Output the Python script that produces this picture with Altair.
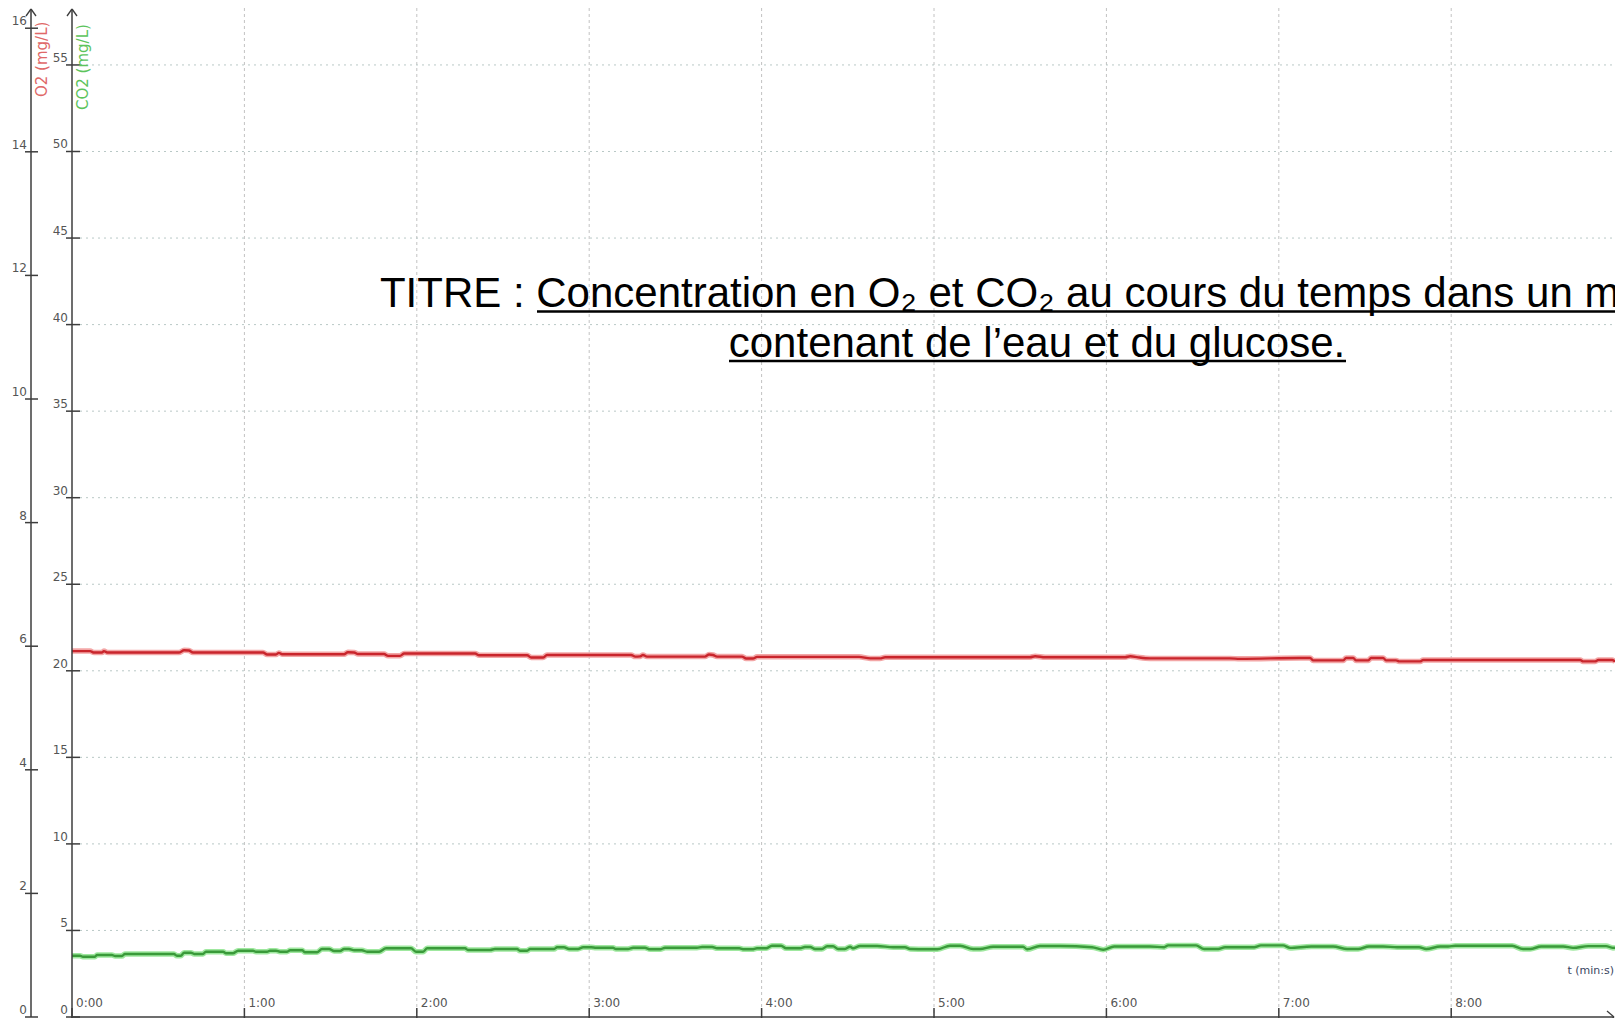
import altair as alt
import pandas as pd

# ---------------- data ----------------
# time in seconds, O2 in mg/L
o2_t = [0, 6.3, 7.7, 10.4, 11.1, 12.5, 37.2, 39.0, 40.7, 42.1, 66.5, 67.9, 71.0, 72.0, 73.1,
        94.7, 96.0, 98.2, 99.5, 108.6, 110.0, 114.2, 115.6, 140.3, 141.7, 158.4, 159.8, 163.9,
        165.3, 194.6, 196.0, 197.7, 198.7, 200.1, 220.3, 221.7, 223.1, 224.5, 233.2, 234.6,
        237.0, 238.4, 269.0, 273.9, 277.8, 281.2, 283.0, 333.4, 335.2, 338.7, 366.5, 368.3,
        371.0, 375.2, 403.0, 406.5, 427.4, 430.9, 432.0, 442.4, 443.4,
        445.9, 446.9, 451.1, 452.1, 456.3, 457.4, 460.8, 461.9, 469.2, 470.2, 524.9, 525.9,
        530.1, 531.2, 536.0, 537.0]
o2_v = [5.921, 5.921, 5.897, 5.897, 5.921, 5.897, 5.897, 5.934, 5.930, 5.897, 5.897, 5.865,
        5.865, 5.892, 5.870, 5.870, 5.902, 5.899, 5.874, 5.874, 5.844, 5.844, 5.881, 5.881,
        5.853, 5.853, 5.816, 5.816, 5.858, 5.858, 5.832, 5.835, 5.857, 5.832, 5.832, 5.865,
        5.857, 5.832, 5.832, 5.800, 5.800, 5.828, 5.828, 5.828, 5.803, 5.803, 5.821, 5.821,
        5.838, 5.821, 5.821, 5.838, 5.820, 5.803, 5.803, 5.795, 5.810,
        5.810, 5.770, 5.770, 5.808, 5.808, 5.770, 5.770, 5.808, 5.808, 5.770, 5.770, 5.754,
        5.754, 5.776, 5.776, 5.754, 5.754, 5.776, 5.776, 5.750]

# time in seconds, CO2 in mg/L
co2_t = [0, 2.8, 3.8, 8.0, 8.7, 13.9, 15.0, 17.4, 18.4, 35.5, 36.5, 37.9, 39.0, 41.4, 42.5,
         45.6, 46.6, 52.6, 53.6, 56.0, 57.8, 63.0, 64.0, 67.9, 68.9, 71.0, 72.4, 74.8, 75.9,
         80.1, 81.1, 85.3, 87.0, 89.5, 91.2, 93.3, 94.7, 96.4, 98.2, 100.9, 102.7, 106.9,
         109.3, 118.0, 119.7, 122.2, 123.6, 136.8, 137.8, 145.5, 147.2, 154.9, 155.9, 158.4,
         159.4, 167.8, 168.8, 171.2, 173.0, 176.1, 177.9, 180.7, 182.4, 188.3, 189.3, 193.5,
         195.3, 199.4, 201.2, 204.7, 206.4, 217.5, 219.3, 222.8, 224.5, 232.2, 233.9, 236.7,
         238.4, 241.6, 243.6, 246.8, 248.5, 253.4, 255.1, 256.9, 258.6, 261.0, 262.8, 264.9,
         266.6, 269.0, 270.8, 271.8, 274.3, 280.2, 285.8, 289.9, 291.7, 297.6, 301.1, 305.6,
         309.1, 313.6, 316.0, 320.6, 331.0, 332.4, 336.9, 343.9, 355.0, 358.9, 362.7, 375.2,
         380.1, 381.5, 391.2, 394.0, 398.9, 401.3, 411.4, 413.8, 421.5, 423.9, 431.3, 438.9,
         443.8, 447.6, 451.4, 456.3, 461.2, 468.8, 471.3, 476.2, 478.9, 481.4, 501.2, 505.0,
         507.5, 511.3, 519.0, 522.4, 527.7, 533.9, 536.3, 537.0]
co2_v = [3.541, 3.541, 3.483, 3.483, 3.582, 3.582, 3.524, 3.524, 3.640, 3.640, 3.541, 3.541,
         3.715, 3.715, 3.640, 3.640, 3.772, 3.772, 3.680, 3.680, 3.830, 3.830, 3.772, 3.772,
         3.830, 3.830, 3.772, 3.772, 3.853, 3.853, 3.738, 3.738, 3.928, 3.928, 3.813, 3.813,
         3.928, 3.928, 3.853, 3.853, 3.772, 3.772, 3.969, 3.969, 3.772, 3.772, 3.969, 3.969,
         3.871, 3.871, 3.928, 3.928, 3.830, 3.830, 3.928, 3.928, 4.027, 4.027, 3.928, 3.928,
         4.027, 4.027, 4.000, 4.000, 3.928, 3.928, 4.000, 4.000, 3.911, 3.911, 4.000, 4.000,
         4.044, 4.044, 3.969, 3.969, 3.911, 3.911, 3.969, 3.969, 4.119, 4.119, 3.969, 3.969,
         4.044, 4.044, 3.928, 3.928, 4.084, 4.084, 3.928, 3.928, 4.061, 3.969, 4.102, 4.102,
         4.027, 4.027, 3.928, 3.911, 3.911, 4.119, 4.119, 3.928, 3.928, 4.061, 4.061, 3.911,
         4.102, 4.102, 4.032, 3.888, 4.073, 4.073, 4.032, 4.136, 4.136, 3.928, 3.928, 4.032,
         4.032, 4.136, 4.136, 3.992, 4.073, 4.073, 3.928, 3.928, 4.073, 4.073, 4.032, 4.032,
         3.928, 4.073, 4.073, 4.113, 4.113, 3.928, 3.928, 4.073, 4.073, 3.992, 4.096, 4.096,
         3.992, 4.000]

o2_ticks = [0, 2, 4, 6, 8, 10, 12, 14, 16]
co2_ticks = [0, 5, 10, 15, 20, 25, 30, 35, 40, 45, 50, 55]
minute_ticks = [0, 60, 120, 180, 240, 300, 360, 420, 480]
minute_labels = ["0:00", "1:00", "2:00", "3:00", "4:00", "5:00", "6:00", "7:00", "8:00"]
o2_title = "O2 (mg/L)"
co2_title = "CO2 (mg/L)"
t_title = "t (min:s)"
title_lines = ["TITRE : Concentration en O\u2082 et CO\u2082 au cours du temps dans un milieu",
               "contenant de l\u2019eau et du glucose."]

# ---------------- tables ----------------
df_o2 = pd.DataFrame({"t": o2_t, "v": o2_v})
df_co2 = pd.DataFrame({"t": co2_t, "v": co2_v})
df_o2tk = pd.DataFrame({"v": o2_ticks, "lab": [str(v) for v in o2_ticks]})
df_co2tk = pd.DataFrame({"v": co2_ticks, "lab": [str(v) for v in co2_ticks]})
df_min = pd.DataFrame({"t": minute_ticks, "lab": minute_labels})
one = pd.DataFrame({"k": [0]})

W, H = 1607, 1010
X = alt.Scale(domain=[-22.27, 537.0], nice=False, zero=False)
Y_O2 = alt.Scale(domain=[-0.0162, 16.327], nice=False, zero=False)
Y_CO2 = alt.Scale(domain=[-0.0578, 58.29], nice=False, zero=False)

AX = "#3d3d3d"
LAB = "#555555"

def xq(field="t"):
    return alt.X(f"{field}:Q", scale=X, axis=None)

grid_v = alt.Chart(df_min[df_min.t > 0]).mark_rule(
    color="#c2c2c2", strokeDash=[3, 3], strokeWidth=1).encode(
    x=xq(), y=alt.value(0), y2=alt.value(1009))

grid_h = alt.Chart(df_co2tk[df_co2tk.v > 0]).mark_rule(
    color="#b9c8c6", strokeDash=[2, 4], strokeWidth=1).encode(
    y=alt.Y("v:Q", scale=Y_CO2, axis=None), x=alt.value(72), x2=alt.value(W))

o2_halo = alt.Chart(df_o2).mark_line(color="#f3a6a6", strokeWidth=5.5, interpolate="monotone").encode(
    x=xq(), y=alt.Y("v:Q", scale=Y_O2, axis=None))
o2_core = alt.Chart(df_o2).mark_line(color="#c9252c", strokeWidth=2.4, interpolate="monotone").encode(
    x=xq(), y=alt.Y("v:Q", scale=Y_O2, axis=None))
co2_halo = alt.Chart(df_co2).mark_line(color="#9fe89f", strokeWidth=5.5, interpolate="monotone").encode(
    x=xq(), y=alt.Y("v:Q", scale=Y_CO2, axis=None))
co2_core = alt.Chart(df_co2).mark_line(color="#3a9a3a", strokeWidth=2.4, interpolate="monotone").encode(
    x=xq(), y=alt.Y("v:Q", scale=Y_CO2, axis=None))

# axis lines
ax_o2 = alt.Chart(one).mark_rule(color=AX, strokeWidth=1.5).encode(
    x=alt.value(23), y=alt.value(1), y2=alt.value(1009))
ax_co2 = alt.Chart(one).mark_rule(color=AX, strokeWidth=1.5).encode(
    x=alt.value(64), y=alt.value(1), y2=alt.value(H))
ax_x = alt.Chart(one).mark_rule(color=AX, strokeWidth=1.5).encode(
    x=alt.value(64), x2=alt.value(1606), y=alt.value(1009))

# arrow heads
arrows = []
for (x1, y1, x2, y2) in [(18, 8, 23, 1), (28, 8, 23, 1), (59, 8, 64, 1), (69, 8, 64, 1),
                         (1599, 1003, 1606, 1009), (1599, 1015, 1606, 1009)]:
    arrows.append(alt.Chart(one).mark_rule(color=AX, strokeWidth=1.3).encode(
        x=alt.value(x1), y=alt.value(y1), x2=alt.value(x2), y2=alt.value(y2)))

# ticks
o2_tk = alt.Chart(df_o2tk).mark_rule(color=AX, strokeWidth=1.5).encode(
    y=alt.Y("v:Q", scale=Y_O2, axis=None), x=alt.value(17), x2=alt.value(30))
co2_tk = alt.Chart(df_co2tk).mark_rule(color=AX, strokeWidth=1.5).encode(
    y=alt.Y("v:Q", scale=Y_CO2, axis=None), x=alt.value(58), x2=alt.value(72))
x_tk = alt.Chart(df_min).mark_rule(color=AX, strokeWidth=1.5).encode(
    x=xq(), y=alt.value(1000), y2=alt.value(H))

# tick labels
o2_lab = alt.Chart(df_o2tk).mark_text(
    align="right", baseline="alphabetic", dy=-3, font="DejaVu Sans", fontSize=12, color=LAB).encode(
    y=alt.Y("v:Q", scale=Y_O2, axis=None), x=alt.value(19), text="lab:N")
co2_lab = alt.Chart(df_co2tk).mark_text(
    align="right", baseline="alphabetic", dy=-3, font="DejaVu Sans", fontSize=12, color=LAB).encode(
    y=alt.Y("v:Q", scale=Y_CO2, axis=None), x=alt.value(60), text="lab:N")
x_lab = alt.Chart(df_min).mark_text(
    align="left", baseline="alphabetic", dx=4, font="DejaVu Sans", fontSize=12, color=LAB).encode(
    x=xq(), y=alt.value(999), text="lab:N")

# axis titles
o2_ttl = alt.Chart(pd.DataFrame({"s": [o2_title]})).mark_text(
    angle=270, align="left", baseline="alphabetic", font="DejaVu Sans", fontSize=15,
    color="#e06868").encode(x=alt.value(39), y=alt.value(89), text="s:N")
co2_ttl = alt.Chart(pd.DataFrame({"s": [co2_title]})).mark_text(
    angle=270, align="left", baseline="alphabetic", font="DejaVu Sans", fontSize=15,
    color="#5cc45c").encode(x=alt.value(80), y=alt.value(102), text="s:N")
t_ttl = alt.Chart(pd.DataFrame({"s": [t_title]})).mark_text(
    align="right", baseline="alphabetic", font="DejaVu Sans", fontSize=11,
    color="#3a4660").encode(x=alt.value(1606), y=alt.value(966), text="s:N")

# main title (two centred lines, underlined)
ttl1 = alt.Chart(pd.DataFrame({"s": [title_lines[0]]})).mark_text(
    align="center", baseline="alphabetic", font="Liberation Sans", fontSize=42,
    color="#000000", clip=True).encode(x=alt.value(1029), y=alt.value(299), text="s:N")
ttl2 = alt.Chart(pd.DataFrame({"s": [title_lines[1]]})).mark_text(
    align="center", baseline="alphabetic", font="Liberation Sans", fontSize=42,
    color="#000000").encode(x=alt.value(1029), y=alt.value(349), text="s:N")
ul1 = alt.Chart(one).mark_rule(color="#000000", strokeWidth=2.5).encode(
    x=alt.value(529), x2=alt.value(W), y=alt.value(303.5))
ul2 = alt.Chart(one).mark_rule(color="#000000", strokeWidth=2.5).encode(
    x=alt.value(721), x2=alt.value(1338), y=alt.value(353))

chart = alt.layer(
    grid_v, grid_h, o2_halo, o2_core, co2_halo, co2_core,
    ax_o2, ax_co2, ax_x, *arrows, o2_tk, co2_tk, x_tk,
    o2_lab, co2_lab, x_lab, o2_ttl, co2_ttl, t_ttl,
    ttl1, ttl2, ul1, ul2
).resolve_scale(y="independent", x="independent").properties(
    width=W, height=H, autosize=alt.AutoSizeParams(type="none"), padding=0,
    background="white"
).configure_view(strokeWidth=0)

chart.save("out.html", embed_options={"renderer": "svg", "actions": False})
